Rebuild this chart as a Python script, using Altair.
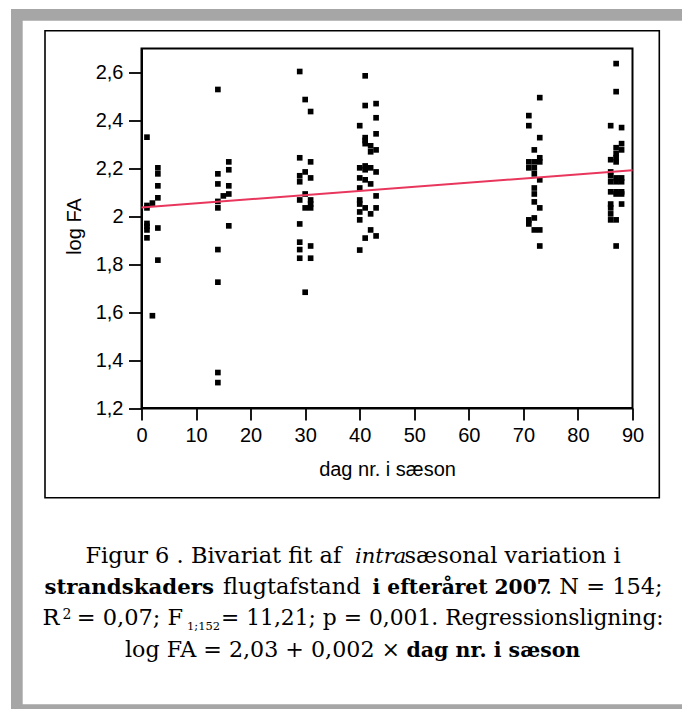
import altair as alt
import pandas as pd

# ---------------- data ----------------
cluster_days = [1, 2, 3, 14, 15, 16, 29, 30, 31, 40, 41, 42, 43, 71, 72, 73, 86, 87, 88]
cluster_values = [
    [2.33, 2.045, 2.035, 1.97, 1.958, 1.943, 1.91],
    [2.055, 1.585],
    [2.202, 2.177, 2.127, 2.077, 1.951, 1.817],
    [2.529, 2.177, 2.135, 2.062, 2.035, 1.861, 1.725, 1.348, 1.306],
    [2.085],
    [2.227, 2.194, 2.127, 2.093, 1.96],
    [2.604, 2.244, 2.169, 2.144, 2.068, 1.968, 1.892, 1.861, 1.825],
    [2.487, 2.185, 2.093, 2.035, 1.683],
    [2.437, 2.227, 2.160, 2.068, 2.051, 2.035, 1.876, 1.825],
    [2.378, 2.202, 2.160, 2.118, 2.068, 2.051, 2.018, 1.985, 1.859],
    [2.586, 2.462, 2.328, 2.316, 2.303, 2.210, 2.194, 2.152, 2.035, 1.909],
    [2.294, 2.269, 2.202, 2.135, 2.010, 1.943],
    [2.470, 2.411, 2.344, 2.277, 2.185, 2.085, 2.035, 1.918],
    [2.420, 2.378, 2.227, 2.202, 1.985, 1.968],
    [2.277, 2.227, 2.202, 2.177, 2.118, 2.093, 2.060, 1.993, 1.943],
    [2.495, 2.328, 2.244, 2.227, 2.152, 2.035, 1.943, 1.876],
    [2.378, 2.236, 2.185, 2.169, 2.144, 2.102, 2.051, 2.035, 2.010, 1.985],
    [2.637, 2.520, 2.286, 2.261, 2.244, 2.227, 2.160, 2.144, 2.102, 2.093, 1.985, 1.876],
    [2.370, 2.303, 2.277, 2.160, 2.144, 2.102, 2.093, 2.051],
]
fit_days = [0, 90]
fit_values = [2.037, 2.192]

x_ticks = [0, 10, 20, 30, 40, 50, 60, 70, 80, 90]
y_ticks = [1.2, 1.3, 1.4, 1.5, 1.6, 1.7, 1.8, 1.9, 2.0, 2.1, 2.2, 2.3, 2.4, 2.5, 2.6, 2.7]

rows = []
for d, vals in zip(cluster_days, cluster_values):
    for v in vals:
        rows.append({"dag": d, "logfa": v})
points_df = pd.DataFrame(rows)
fit_df = pd.DataFrame({"dag": fit_days, "logfa": fit_values})
one = pd.DataFrame({"k": [0]})

# ---------------- layout ----------------
OX, OY = 141.5, 48.5        # plot-area origin on the page
W, H = 491, 359.5
SANS = "Liberation Sans"
SERIF = "DejaVu Serif"
GRAY = "#a6a6a6"

x_enc = alt.X(
    "dag:Q",
    scale=alt.Scale(domain=[0, 90], nice=False, zero=False),
    axis=alt.Axis(
        values=x_ticks, title="dag nr. i sæson", grid=False,
        tickSize=12, tickWidth=1.8, domainWidth=2, domainColor="black", tickColor="black",
        labelFont=SANS, labelFontSize=20, labelColor="black", labelPadding=5,
        labelFlush=False, labelOverlap=False,
        titleFont=SANS, titleFontSize=20, titleFontWeight="normal", titleColor="black",
        titleBaseline="alphabetic", titleY=67,
    ),
)
y_enc = alt.Y(
    "logfa:Q",
    scale=alt.Scale(domain=[1.2, 2.7], nice=False, zero=False),
    axis=alt.Axis(
        values=y_ticks, grid=False,
        labelExpr="round(datum.value*10) % 2 == 0 ? replace(format(datum.value, '~g'), '.', ',') : ''",
        tickSize=13, tickWidth=1.8, domainWidth=2, domainColor="black", tickColor="black",
        labelFont=SANS, labelFontSize=20, labelColor="black", labelPadding=5.5,
        labelFlush=False, labelOverlap=False,
        title="log FA", titleFont=SANS, titleFontSize=20, titleFontWeight="normal",
        titleColor="black", titleAngle=270, titleAlign="center", titleBaseline="middle",
        titleX=74.5 - OX, titleY=226 - OY,
    ),
)


def band(x1, x2, y1, y2):
    return alt.Chart(one).mark_rect(color=GRAY).encode(
        x=alt.value(x1 - OX), x2=alt.value(x2 - OX),
        y=alt.value(y1 - OY), y2=alt.value(y2 - OY))


gray_top = band(11, 690, 9, 20.7)
gray_left = band(11, 22.7, 9, 720)
gray_bottom = band(11, 690, 704.3, 720)

box = alt.Chart(one).mark_rect(fillOpacity=0, stroke="black", strokeWidth=1.6).encode(
    x=alt.value(45 - OX), x2=alt.value(659.3 - OX),
    y=alt.value(30.7 - OY), y2=alt.value(497.7 - OY))

points = alt.Chart(points_df).mark_square(size=32, color="black", opacity=1).encode(
    x=x_enc, y=y_enc)
fit = alt.Chart(fit_df).mark_line(color="#e8365d", strokeWidth=2).encode(
    x="dag:Q", y="logfa:Q")


def cap(txt, x, y, weight="normal", style="normal", size=22.5):
    return alt.Chart(one).mark_text(
        text=txt, align="left", baseline="alphabetic", font=SERIF, fontSize=size,
        fontWeight=weight, fontStyle=style, color="black",
    ).encode(x=alt.value(x - OX), y=alt.value(y - OY))


b1, b2, b3, b4 = 562.7, 594.0, 625.3, 656.7
caption = [
    cap("Figur 6 . Bivariat fit af", 85.5, b1),
    cap("intra", 355, b1, style="italic", size=21),
    cap("sæsonal variation i", 404.5, b1),
    cap("strandskaders", 44.5, b2, weight="bold", size=21.3),
    cap("flugtafstand", 223, b2),
    cap("i efteråret 2007", 372.6, b2, weight="bold", size=20.2),
    cap(". N = 154;", 545, b2),
    cap("R", 42.5, b3),
    cap("2", 62.4, b3 - 6.5, size=14),
    cap("= 0,07; F", 76.7, b3),
    cap("1;152", 187, b3 + 5, size=11.5),
    cap("= 11,21; p = 0,001. Regressionsligning:", 221, b3, size=21.8),
    cap("log FA = 2,03 + 0,002 ×", 125, b4, size=22.2),
    cap("dag nr. i sæson", 406.5, b4, weight="bold", size=20.5),
]

chart = alt.layer(
    gray_top, gray_left, gray_bottom, box, points, fit, *caption
).properties(
    width=W, height=H,
    padding={"left": OX, "top": OY, "right": 682 - OX - W, "bottom": 709 - OY - H},
    autosize=alt.AutoSizeParams(type="none"),
    background="white",
).configure_view(stroke="black", strokeWidth=2)

chart.save("out.html", embed_options={"renderer": "svg", "actions": False})
